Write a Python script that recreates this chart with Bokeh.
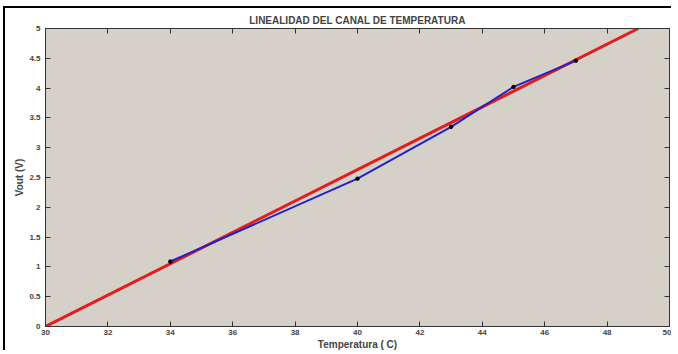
from bokeh.plotting import figure
from bokeh.models import FixedTicker, LinearAxis, Range1d
from bokeh.embed import file_html
from bokeh.resources import INLINE

# data
temp = [34, 40, 43, 45, 47]
vout = [1.09, 2.48, 3.35, 4.02, 4.46]
fit_temp = [30, 49]
fit_vout = [0.0, 5.0]
x_ticks = [30, 32, 34, 36, 38, 40, 42, 44, 46, 48, 50]
y_ticks = [0, 0.5, 1, 1.5, 2, 2.5, 3, 3.5, 4, 4.5, 5]
y_labels = {0: "0", 0.5: "0.5", 1: "1", 1.5: "1.5", 2: "2", 2.5: "2.5",
            3: "3", 3.5: "3.5", 4: "4", 4.5: "4.5", 5: "5"}

FONT = "Liberation Sans"

p = figure(width=668, height=344, output_backend="svg", toolbar_location=None,
           x_range=Range1d(30, 50), y_range=Range1d(0, 5),
           title="LINEALIDAD DEL CANAL DE TEMPERATURA",
           min_border_left=40, min_border_right=4, min_border_top=20, min_border_bottom=17)
p.styles = {"margin-left": "3px", "margin-top": "6px", "margin-bottom": "-8px",
            "border-left": "2px solid black", "border-top": "2px solid black"}

p.title.align = "center"
p.title.text_font = FONT
p.title.text_font_size = "10px"
p.title.text_font_style = "bold"
p.title.offset = 0
p.title.standoff = 6

p.background_fill_color = "#d5d1c9"
p.border_fill_color = "white"
p.outline_line_color = "#333333"
p.grid.visible = False

p.line(fit_temp, fit_vout, line_color="#e01e1e", line_width=3)
p.line(temp, vout, line_color="#2222cc", line_width=2)
p.scatter(temp, vout, size=3.5, color="black")

bottom = p.below[0]
left = p.left[0]
bottom.ticker = FixedTicker(ticks=x_ticks)
left.ticker = FixedTicker(ticks=y_ticks)
left.major_label_overrides = y_labels

top = LinearAxis(ticker=FixedTicker(ticks=x_ticks), major_label_text_color=None)
right = LinearAxis(ticker=FixedTicker(ticks=y_ticks), major_label_text_color=None)
p.add_layout(top, "above")
p.add_layout(right, "right")

for ax in [bottom, left, top, right]:
    ax.major_tick_in = 5
    ax.major_tick_out = 0
    ax.minor_tick_in = 0
    ax.minor_tick_out = 0
    ax.axis_line_color = "#333333"
    ax.major_tick_line_color = "#333333"
    ax.major_label_text_font = FONT
    ax.major_label_text_font_style = "bold"
    ax.major_label_text_font_size = "8px"

for ax in [top, right]:
    ax.major_label_standoff = 0

bottom.major_label_standoff = 3
left.major_label_standoff = 5
bottom.axis_label = "Temperatura ( C)"
left.axis_label = "Vout (V)"
for ax in [bottom, left]:
    ax.axis_label_text_font = FONT
    ax.axis_label_text_font_size = "10px"
    ax.axis_label_text_font_style = "bold"
    ax.axis_label_standoff = 1

open("out.html", "w").write(file_html(p, INLINE))
